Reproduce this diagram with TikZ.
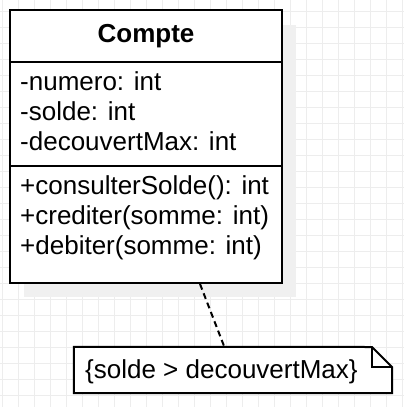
\documentclass[tikz,border=0pt]{standalone}
\usepackage{fontspec}
\setmainfont{Liberation Sans}
\begin{document}
\begin{tikzpicture}[x=1pt,y=-1pt,
  gridline/.style={draw=black!7,line width=1pt},
  shadowbox/.style={fill=black!6,draw=none},
  classbox/.style={draw=black,line width=2pt,fill=white,minimum width=272pt,minimum height=273pt,inner sep=0pt},
  sepline/.style={draw=black,line width=2pt},
  member/.style={anchor=base west,inner sep=0pt,font=\fontsize{26}{30}\selectfont},
  titletext/.style={inner sep=0pt,font=\fontsize{26}{30}\selectfont\bfseries},
  noteline/.style={draw=black,line width=2pt,line join=miter},
  connector/.style={draw=black,line width=2pt,dash pattern=on 6pt off 4pt}]
\useasboundingbox (0,0) rectangle (404,407);
\fill[white] (0,0) rectangle (404,407);
% grid
\foreach \gx in {2.7,18.7,...,404} {\draw[gridline] (\gx,0) -- (\gx,407);}
\foreach \gy in {11,27,...,407} {\draw[gridline] (0,\gy) -- (404,\gy);}
% shadow
\fill[shadowbox] (24,25) rectangle (296,297);
% class box
\node[classbox] (cls) at (146,146.5) {};
\coordinate (s1l) at (10,62);
\coordinate (s1r) at (282,62);
\coordinate (s2l) at (10,166);
\coordinate (s2r) at (282,166);
\draw[sepline] (s1l) -- (s1r);
\draw[sepline] (s2l) -- (s2r);
\node[titletext] (title) at (146,36) {Compte};
\node[member] (a1) at (20,90) {-numero: int};
\node[member] (a2) at (20,120) {-solde: int};
\node[member] (a3) at (20,150) {-decouvertMax: int};
\node[member] (m1) at (20,194) {+consulterSolde(): int};
\node[member] (m2) at (20,224) {+crediter(somme: int)};
\node[member] (m3) at (20,254) {+debiter(somme: int)};
% note
\node[inner sep=0pt,minimum width=318pt,minimum height=46pt] (note) at (233,370) {};
\draw[noteline,fill=white] (note.north west) -- (372,347) -- (392,367) -- (note.south east) -- (note.south west) -- cycle;
\draw[noteline] (372,347) -- (372,367) -- (392,367);
\node[member] (nt) at (85,378) {\{solde > decouvertMax\}};
% connector
\coordinate (c1) at (200,284);
\coordinate (c2) at (224,346);
\draw[connector] (c1) -- (c2);
\end{tikzpicture}
\end{document}
